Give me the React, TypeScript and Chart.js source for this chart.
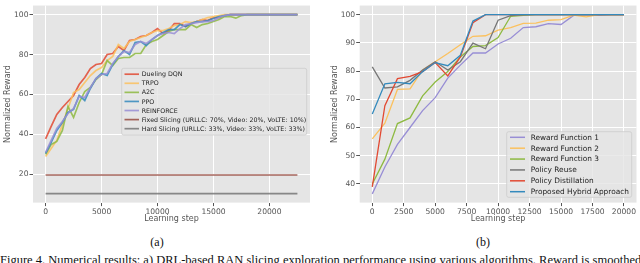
import React, { useEffect, useRef } from "react";
import { Chart, registerables } from "chart.js";
Chart.register(...registerables);

// ---------- Data: panel (a) ----------
const stepsA = [0, 500, 1000, 1500, 2000, 2500, 3000, 3500, 4000, 4500, 5000, 5500, 6000, 6500, 7000, 7500, 8000, 8500, 9000, 9500, 10000, 10500, 11000, 11500, 12000, 12500, 13000, 13500, 14000, 14500, 15000, 15500, 16000, 16500, 17000, 17500, 18000, 18500, 19000, 19500, 20000, 20500, 21000, 21500, 22000, 22500];
const duelingDQN = [37.8, 44, 50, 53.5, 56.5, 59.5, 65, 68.5, 73, 75, 75.5, 80, 80.5, 84, 82, 87, 87.5, 89, 89.5, 91, 93, 90.5, 92, 95.5, 95.5, 94, 95.5, 96.5, 97.5, 97, 98.5, 98.5, 99.5, 100, 100, 100, 100, 100, 100, 100, 100, 100, 100, 100, 100, 100];
const trpo = [29, 33, 37, 45, 53, 61, 62.5, 66, 69.5, 72, 73.5, 77, 79, 85, 83, 86.5, 87.5, 88.5, 89.5, 91, 92, 92, 93, 94.5, 95, 96.5, 96, 96.5, 97.5, 98.5, 99, 99.5, 100, 100, 100, 100, 100, 100, 100, 100, 100, 100, 100, 100, 100, 100];
const a2c = [30, 35, 36.5, 42, 54, 48.5, 56, 61.5, 63.5, 67.5, 70, 77, 74.5, 78, 78.5, 78.5, 80.5, 80.5, 85, 86.5, 87.5, 89.5, 91.5, 92.5, 92.5, 92.5, 95, 93.5, 95, 95.5, 96.5, 97.5, 99, 99, 98.2, 99.5, 100, 100, 100, 100, 100, 100, 100, 100, 100, 100];
const ppo = [30.5, 36, 42, 46, 51, 52.5, 59.5, 57, 63, 68, 70.5, 69.5, 75, 79, 82, 80, 86, 86.5, 84.5, 87.5, 89.5, 91, 92.5, 92.5, 95, 94, 95.5, 96.5, 96.5, 97, 98, 99, 99.5, 100, 100, 100, 100, 100, 100, 100, 100, 100, 100, 100, 100, 100];
const reinforce = [31, 37, 43, 46.5, 50.5, 53, 59, 58.5, 63.5, 68, 70, 70.5, 75.5, 79, 81.5, 81, 85, 86.5, 85.5, 87.5, 89.5, 90.5, 91, 90.5, 93, 95, 95.5, 96, 96.5, 96.5, 97, 98.5, 99.5, 100, 100, 100, 100, 100, 100, 100, 100, 100, 100, 100, 100, 100];
const fixedSlicing = [19.7, 19.7, 19.7, 19.7, 19.7, 19.7, 19.7, 19.7, 19.7, 19.7, 19.7, 19.7, 19.7, 19.7, 19.7, 19.7, 19.7, 19.7, 19.7, 19.7, 19.7, 19.7, 19.7, 19.7, 19.7, 19.7, 19.7, 19.7, 19.7, 19.7, 19.7, 19.7, 19.7, 19.7, 19.7, 19.7, 19.7, 19.7, 19.7, 19.7, 19.7, 19.7, 19.7, 19.7, 19.7, 19.7];
const hardSlicing = [10.4, 10.4, 10.4, 10.4, 10.4, 10.4, 10.4, 10.4, 10.4, 10.4, 10.4, 10.4, 10.4, 10.4, 10.4, 10.4, 10.4, 10.4, 10.4, 10.4, 10.4, 10.4, 10.4, 10.4, 10.4, 10.4, 10.4, 10.4, 10.4, 10.4, 10.4, 10.4, 10.4, 10.4, 10.4, 10.4, 10.4, 10.4, 10.4, 10.4, 10.4, 10.4, 10.4, 10.4, 10.4, 10.4];
const labelsA = ["Dueling DQN", "TRPO", "A2C", "PPO", "REINFORCE", "Fixed Slicing (URLLC: 70%, Video: 20%, VoLTE: 10%)", "Hard Slicing (URLLC: 33%, Video: 33%, VoLTE: 33%)"];
const xTicksA = [0, 5000, 10000, 15000, 20000];
const yTicksA = [20, 40, 60, 80, 100];

// ---------- Data: panel (b) ----------
const stepsB = [0, 1000, 2000, 3000, 4000, 5000, 6000, 7000, 8000, 9000, 10000, 11000, 12000, 13000, 14000, 15000, 16000, 17000, 18000, 19000, 20000];
const rewardFn1 = [36.5, 46, 54, 60, 66, 70.6, 77.5, 82.1, 86.4, 86.4, 89.6, 91.6, 95.4, 95.7, 96.8, 96.5, 99.7, 100, 99.7, 100, 100];
const rewardFn2 = [56, 61.5, 73.5, 73.7, 80.4, 83.3, 86.2, 89.3, 92.3, 92.5, 94.5, 95.4, 96.9, 97, 98, 98.2, 99.8, 99.2, 100, 100, 100];
const rewardFn3 = [40, 48.8, 61.4, 63.4, 71.2, 76.1, 79.8, 85, 88.7, 89, 91.9, 99.4, 99.7, 100, 100, 100, 100, 100, 100, 100, 100];
const policyReuse = [81.5, 74, 74.4, 76.7, 80.4, 83.3, 80.4, 83.3, 89.9, 87.9, 98, 99.6, 100, 100, 100, 100, 100, 100, 100, 100, 100];
const policyDistillation = [39, 67.7, 77.3, 78.1, 79.8, 83, 78.3, 85, 97.1, 100, 100, 100, 100, 100, 100, 100, 100, 100, 100, 100, 100];
const hybrid = [64.8, 75.5, 76, 75.5, 79.8, 83, 81.9, 85.6, 97.7, 100, 100, 100, 100, 100, 100, 100, 100, 100, 100, 100, 100];
const labelsB = ["Reward Function 1", "Reward Function 2", "Reward Function 3", "Policy Reuse", "Policy Distillation", "Proposed Hybrid Approach"];
const xTicksB = [0, 2500, 5000, 7500, 10000, 12500, 15000, 17500, 20000];
const yTicksB = [40, 50, 60, 70, 80, 90, 100];

const FONT = "'DejaVu Sans', sans-serif";

const bgPlugin = {
  id: "plotBg",
  beforeDraw(chart: any) {
    const { ctx, chartArea: a } = chart;
    ctx.save();
    ctx.fillStyle = "#E5E5E5";
    ctx.fillRect(a.left, a.top, a.right - a.left, a.bottom - a.top);
    ctx.restore();
  },
};

const boxLegendPlugin = {
  id: "boxLegend",
  afterDatasetsDraw(chart: any, _args: any, o: any) {
    if (!o || !o.show) return;
    const ctx = chart.ctx;
    ctx.save();
    const r = 2;
    ctx.beginPath();
    ctx.moveTo(o.bx + r, o.by);
    ctx.lineTo(o.bx + o.bw - r, o.by);
    ctx.arcTo(o.bx + o.bw, o.by, o.bx + o.bw, o.by + r, r);
    ctx.lineTo(o.bx + o.bw, o.by + o.bh - r);
    ctx.arcTo(o.bx + o.bw, o.by + o.bh, o.bx + o.bw - r, o.by + o.bh, r);
    ctx.lineTo(o.bx + r, o.by + o.bh);
    ctx.arcTo(o.bx, o.by + o.bh, o.bx, o.by + o.bh - r, r);
    ctx.lineTo(o.bx, o.by + r);
    ctx.arcTo(o.bx, o.by, o.bx + r, o.by, r);
    ctx.closePath();
    ctx.fillStyle = "rgba(229,229,229,0.8)";
    ctx.fill();
    ctx.strokeStyle = "rgba(204,204,204,0.8)";
    ctx.lineWidth = 1;
    ctx.stroke();
    chart.data.datasets.forEach((ds: any, i: number) => {
      const y = o.y0 + i * o.dy;
      ctx.strokeStyle = ds.borderColor;
      ctx.lineWidth = o.lw;
      ctx.beginPath();
      ctx.moveTo(o.hx0, y);
      ctx.lineTo(o.hx1, y);
      ctx.stroke();
      ctx.fillStyle = "#222";
      ctx.font = `${o.fs}px ${FONT}`;
      ctx.textBaseline = "middle";
      ctx.textAlign = "left";
      ctx.fillText(ds.label, o.tx, y + 0.5);
    });
    ctx.restore();
  },
};

function makeScales(p: {
  xMin: number; xMax: number; xTicks: number[];
  yMin: number; yMax: number; yTicks: number[];
  yWidth: number; xHeight: number; yTitlePad: number; xTitlePad: number;
}) {
  const grid = { color: "#FFFFFF", lineWidth: 1, tickColor: "#555555", tickLength: 3.5, drawTicks: true };
  const tickFont = { family: FONT, size: 7.6 };
  const titleFont = { family: FONT, size: 8 };
  return {
    x: {
      type: "linear",
      min: p.xMin,
      max: p.xMax,
      afterBuildTicks: (s: any) => { s.ticks = p.xTicks.map((v) => ({ value: v })); },
      afterFit: (s: any) => { s.height = p.xHeight; },
      grid,
      border: { display: false },
      ticks: { color: "#555555", font: tickFont, padding: 1, maxRotation: 0, autoSkip: false, callback: (v: any) => String(v) },
      title: { display: true, text: "Learning step", color: "#555555", font: titleFont, padding: { top: 0, bottom: p.xTitlePad } },
    },
    y: {
      type: "linear",
      min: p.yMin,
      max: p.yMax,
      afterBuildTicks: (s: any) => { s.ticks = p.yTicks.map((v) => ({ value: v })); },
      afterFit: (s: any) => { s.width = p.yWidth; },
      grid,
      border: { display: false },
      ticks: { color: "#555555", font: tickFont, padding: 1, autoSkip: false, callback: (v: any) => String(v) },
      title: { display: true, text: "Normalized Reward", color: "#555555", font: titleFont, padding: { top: p.yTitlePad, bottom: 0 } },
    },
  };
}

function ds(label: string, xs: number[], ys: number[], color: string, width: number, order: number) {
  return {
    label,
    data: xs.map((x, i) => ({ x, y: ys[i] })),
    borderColor: color,
    backgroundColor: color,
    borderWidth: width,
    pointRadius: 0,
    tension: 0,
    fill: false,
    order,
  };
}

function ChartA() {
  const ref = useRef<HTMLCanvasElement>(null);
  useEffect(() => {
    const seriesA = [duelingDQN, trpo, a2c, ppo, reinforce, fixedSlicing, hardSlicing];
    const colorsA = [
      "rgba(226,74,51,0.85)",
      "rgba(251,193,94,0.85)",
      "rgba(142,186,66,0.85)",
      "rgba(52,138,189,0.85)",
      "rgba(152,142,213,0.85)",
      "rgba(150,75,65,0.85)",
      "rgba(119,119,119,0.85)",
    ];
    const chart = new Chart(ref.current!, {
      type: "line",
      data: {
        datasets: seriesA.map((s, i) => ds(labelsA[i], stepsA, s, colorsA[i], 1.7, seriesA.length - i)),
      },
      options: {
        animation: false,
        responsive: false,
        layout: { padding: { left: 0, right: 10, top: 1, bottom: 0 } },
        plugins: {
          legend: { display: false },
          tooltip: { enabled: false },
          boxLegend: { show: true, bx: 121.7, by: 68.3, bw: 185, bh: 66.7, y0: 74.2, dy: 9.08, hx0: 124.5, hx1: 139, tx: 141.7, fs: 6.3, lw: 1.7 },
        } as any,
        scales: makeScales({
          xMin: -1125, xMax: 23625, xTicks: xTicksA,
          yMin: 5.9, yMax: 104.5, yTicks: yTicksA,
          yWidth: 33, xHeight: 27.4, yTitlePad: 3.2, xTitlePad: 5.9,
        }) as any,
      },
      plugins: [bgPlugin, boxLegendPlugin],
    });
    return () => chart.destroy();
  }, []);
  return <canvas ref={ref} width={320} height={230} style={{ position: "absolute", left: 0, top: 0, width: 320, height: 230 }} />;
}

function ChartB() {
  const ref = useRef<HTMLCanvasElement>(null);
  useEffect(() => {
    const seriesB = [rewardFn1, rewardFn2, rewardFn3, policyReuse, policyDistillation, hybrid];
    const colorsB = ["#988ED5", "#FBC15E", "#8EBA42", "#777777", "#E24A33", "#348ABD"];
    const chart = new Chart(ref.current!, {
      type: "line",
      data: {
        datasets: seriesB.map((s, i) => ds(labelsB[i], stepsB, s, colorsB[i], 1.3, seriesB.length - i)),
      },
      options: {
        animation: false,
        responsive: false,
        layout: { padding: { left: 0, right: 3.5, top: 1, bottom: 0 } },
        plugins: {
          legend: { display: false },
          tooltip: { enabled: false },
          boxLegend: { show: true, bx: 186.7, by: 131.7, bw: 125, bh: 65.6, y0: 137.3, dy: 10.88, hx0: 190, hx1: 205, tx: 210.7, fs: 7.4, lw: 1.5 },
        } as any,
        scales: makeScales({
          xMin: -1000, xMax: 21000, xTicks: xTicksB,
          yMin: 33.4, yMax: 103.2, yTicks: yTicksB,
          yWidth: 39.7, xHeight: 27.4, yTitlePad: 9.9, xTitlePad: 5.9,
        }) as any,
      },
      plugins: [bgPlugin, boxLegendPlugin],
    });
    return () => chart.destroy();
  }, []);
  return <canvas ref={ref} width={320} height={230} style={{ position: "absolute", left: 320, top: 0, width: 320, height: 230 }} />;
}

const serif = "'Liberation Serif', 'Times New Roman', serif";

export default function App() {
  return (
    <div style={{ position: "fixed", left: 0, top: 0, width: 640, height: 263, overflow: "hidden", background: "#fff" }}>
      <ChartA />
      <ChartB />
      <div style={{ position: "absolute", left: 137, top: 236, width: 40, textAlign: "center", fontFamily: serif, fontSize: 12, lineHeight: "12px", color: "#111" }}>(a)</div>
      <div style={{ position: "absolute", left: 463, top: 236, width: 40, textAlign: "center", fontFamily: serif, fontSize: 12, lineHeight: "12px", color: "#111" }}>(b)</div>
      <div style={{ position: "absolute", left: 0, top: 254.3, width: 720, whiteSpace: "nowrap", fontFamily: serif, fontSize: 12.5, lineHeight: "12.5px", color: "#111" }}>
        Figure 4. Numerical results: a) DRL-based RAN slicing exploration performance using various algorithms. Reward is smoothed
      </div>
    </div>
  );
}
